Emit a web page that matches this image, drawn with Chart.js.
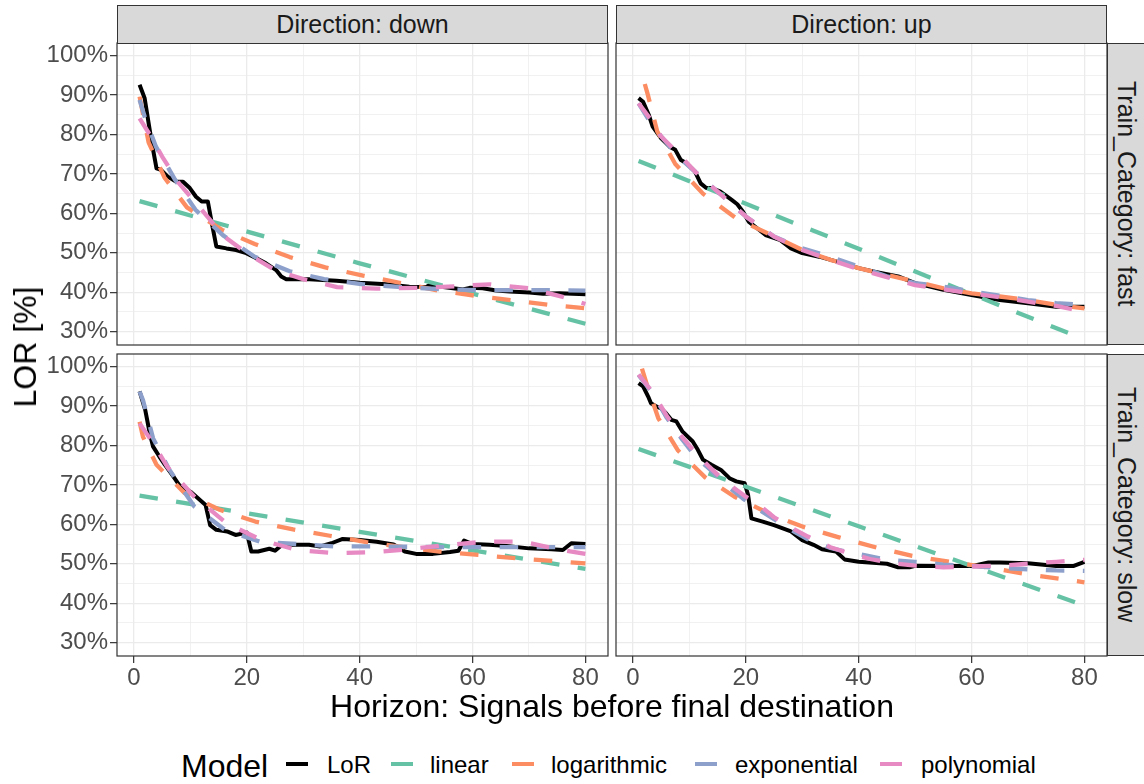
<!DOCTYPE html>
<html>
<head>
<meta charset="utf-8">
<script src="https://cdn.jsdelivr.net/npm/chart.js@4.4.1/dist/chart.umd.min.js"></script>
<style>
  body { margin: 0; background: #fff; }
  #wrap { position: relative; width: 1144px; height: 784px; overflow: hidden; background: #fff;
          font-family: "Liberation Sans", Arial, sans-serif; }
  #wrap canvas { position: absolute; }
  .strip { position: absolute; box-sizing: border-box; background: #D9D9D9; border: 1px solid #333;
           color: #1A1A1A; font-size: 25px; display: flex; align-items: center; justify-content: center;
           white-space: nowrap; }
  .strip.side { writing-mode: vertical-rl; padding-right: 4px; justify-content: center; }
  .title { position: absolute; color: #000; font-size: 32px; white-space: nowrap; line-height: 36px; }
  .lab { position: absolute; font-size: 24px; color: #000; line-height: 28px; white-space: nowrap; }
  .key { position: absolute; height: 4.5px; width: 22px; }
</style>
</head>
<body>
<div id="wrap"></div>
<script>
const FONT = '"Liberation Sans", Arial, sans-serif';

// facets, series, breaks
const colLabels = ["Direction: down", "Direction: up"];
const rowLabels = ["Train_Category: fast", "Train_Category: slow"];
const seriesNames = ["LoR", "linear", "logarithmic", "exponential", "polynomial"];
const seriesColors = ["#000000", "#66C2A5", "#FC8D62", "#8DA0CB", "#E78AC3"];
const xBreaks = [0, 20, 40, 60, 80];
const yBreaks = [30, 40, 50, 60, 70, 80, 90, 100];

// Direction: down / fast
const downFastLorX = [1,1.9,2.8,3.4,4,4.8,6,7.5,8.7,9.9,11,12,13.1,13.7,14.6,16.4,18.1,19.9,21.7,23.4,25.2,26.1,27,28.8,31.1,35.9,40,44.7,48.8,51.8,52.4,54.8,58.3,59.5,61.8,64.2,66.6,70.1,72.5,75.4,80];
const downFastLorY = [92.6,89.2,81.1,76.1,71.4,71,69.3,68,68,66.4,64.2,63,63,58.3,51.6,51.1,50.7,49.9,48.6,47.3,45.6,44,43.3,43.3,43.3,42.9,42.4,42,41.4,41.3,41.8,41.3,40.7,41.1,41,40.4,40.2,39.9,39.6,39.7,39.5];
const downFastLinX = [1, 40, 80];
const downFastLinY = [63.1, 47.3, 32.0];
const downFastLogX = [1,2.6,5.4,9.4,15.6,21.4,27.6,33.9,40.6,47.4,53.9,60.5,67.2,73.5,80];
const downFastLogY = [89.6,78,69.1,61.5,55.8,52.2,48.9,46.3,44.2,42.3,40.4,39.1,37.9,36.8,35.9];
const downFastExpX = [1,1.9,3.9,7.3,10.9,15.8,21.4,27.6,33.7,40.6,47.4,53.9,60.7,67.3,74.1,80];
const downFastExpY = [88.8,84.5,76.9,68.5,60.9,54.4,49,45.3,43.3,42,41.3,40.8,40.5,40.5,40.5,40.4];
const downFastPolX = [1,3,5,8,12,16,20,25,30,36,43,50,57,63,70,76,80];
const downFastPolY = [84.1,79.5,74.4,67.6,60.9,54.1,49.9,45.6,43.3,41.3,40.9,41.1,41.5,42,41,38.8,37];

// Direction: up / fast
const upFastLorX = [1,1.8,2.8,3.5,5,6.5,7.5,8.5,9.5,11,12,13,14,15.5,17.5,18.5,19.5,20.5,22,23.5,26,28,30,33,36,40,43,47,50,55,60,65,70,75,80];
const upFastLorY = [89.2,88.3,85,82,79,76.9,76.1,73.5,72.7,70.6,67.6,66.4,66.4,65.5,63.4,62.3,60.4,57.9,56.2,54.5,53.3,51.1,49.9,49,47.8,46.1,45.1,44,42.3,40.6,39.3,38,37.2,36.3,36.3];
const upFastLinX = [1, 40, 80];
const upFastLinY = [73.3, 51.0, 28.0];
const upFastLogX = [2.1,2.6,4.3,7.5,12.4,18.4,24.5,30,35,40,45,50,55,60,65,70,75,80];
const upFastLogY = [92.8,90.3,80.8,72.5,65,58.6,54.5,50.7,48.2,46.1,44.4,42.7,41,39.7,38.9,38,36.8,35.9];
const upFastExpX = [1,3,5,8,12,16,20,25,30,35,40,45,50,55,60,65,70,75,80];
const upFastExpY = [87.9,83.3,79.5,74.4,69.3,64.2,59.2,54.1,51.1,49,46.5,44,42.3,41.4,40.2,39.1,38,37.2,36.8];
const upFastPolX = [1,3,5,8,11,15,20,25,30,35,40,45,50,55,60,65,70,75,80];
const upFastPolY = [87.9,84.1,79.5,75.2,70.6,65.5,59.2,54.1,50.7,48.2,45.8,43.8,41.8,40.7,39.7,38.7,37.6,36.5,35.1];

// Direction: down / slow
const downSlowLorX = [1,2,2.8,3.4,4.5,5.5,7,8,10,12,12.7,13.5,14.6,16.5,18,20,20.8,22,24,25,26,28,31,33,35,37,40,43,46,48,50,53,56,57.5,58.5,60,63,66,70,74,76,77.5,80];
const downSlowLorY = [93.7,89,83.1,79.7,77.2,75.1,72.1,70,68.3,65.8,64.9,59.8,58.6,58.2,57.3,57.9,53.1,53.1,53.8,53.3,54.5,54.8,54.8,54.4,55.2,56.3,56,55.6,54.9,53.1,52.5,52.5,53,53.3,55.9,55,54.8,54.5,53.9,53.7,53.5,55.2,55];
const downSlowLinX = [1, 40, 80];
const downSlowLinY = [67.3, 58.1, 48.7];
const downSlowLogX = [1,1.6,4,9,15.2,21.5,28.2,34.7,41.2,47.7,54.2,61.3,67.6,74.2,80];
const downSlowLogY = [86,82.2,75.1,67.9,63.7,60.7,58.7,57.1,55.5,54.2,53.1,52.2,51.4,50.7,50.1];
const downSlowExpX = [1,1.6,3.4,6.3,10.7,16.1,22.3,28.8,35.6,42.4,55.3,67,80];
const downSlowExpY = [93.7,91.5,81.8,73.8,64.5,58.6,55.6,55,54.4,54.4,54.2,54.2,54.2];
const downSlowPolX = [1,3.4,6,10.7,16.4,22.6,28.8,35.4,42,48.8,55.6,62.3,68.9,75.7,80];
const downSlowPolY = [85.6,80.6,74.4,67,60.3,56,53.5,52.7,52.9,53.7,54.8,55.6,55.6,53.5,52.5];

// Direction: up / slow
const upSlowLorX = [1,1.8,2.7,3.2,4.1,5,5.9,6.8,7.7,8.8,10.6,11.5,12.4,13.9,15.6,17.1,18.3,19.8,20.4,21,23,25,28,30,32,33.5,36,37.5,40,45,47,49,50,55,60,63,65,70,75,78,80];
const upSlowLorY = [95.8,95,92.4,90.7,89.9,89.4,88.1,86.5,86.1,83.5,81,78.9,76.4,75.1,73.8,71.7,70.9,70.4,67.5,61.5,60.7,59.8,58.2,56,54.8,53.7,53.1,51.1,50.5,50,49.1,49.1,49.5,49.4,49.4,50.3,50.3,50.1,49.4,49.4,50.5];
const upSlowLinX = [1, 40, 80];
const upSlowLinY = [79.1, 59.5, 39.4];
const upSlowLogX = [1.6,2.5,4.5,8,12.8,18,24.6,30.5,36.5,43.2,49.5,56.5,63.8,69.5,76.5,80];
const upSlowLogY = [99.5,95.3,86.9,78.7,71.9,67,62.4,59.2,56.7,54.1,52,50.4,48.9,47.4,46,45.3];
const upSlowExpX = [1,3.5,6,8.8,11.2,13.6,16.2,19.5,22,25,28,31,35,38,41,45,50,55,60,65,70,75,80];
const upSlowExpY = [97.9,93.2,87,81.4,77,74,70.4,66.5,64,61.3,58.6,56.2,54,53,52.2,51,50.5,49.8,49.4,48.9,48.6,48.3,48.2];
const upSlowPolX = [1,3.5,6,8.8,11.2,13.6,16.2,20,22,25,28,31,35,38,42,46,50,55,60,65,70,75,80];
const upSlowPolY = [98,93.5,87.5,82,78,74.5,71,67,65.3,61.8,59.2,56.9,54.2,52.8,51.2,50.1,49.5,49.1,49.3,49.5,50,50.5,51];

const PANEL_W = 491, PANEL_H = 302;
const panels = [
    { left: 117, top: 43,  showX: false, showY: true,
      series: [[downFastLorX, downFastLorY], [downFastLinX, downFastLinY], [downFastLogX, downFastLogY], [downFastExpX, downFastExpY], [downFastPolX, downFastPolY]] },
    { left: 616, top: 43,  showX: false, showY: false,
      series: [[upFastLorX, upFastLorY], [upFastLinX, upFastLinY], [upFastLogX, upFastLogY], [upFastExpX, upFastExpY], [upFastPolX, upFastPolY]] },
    { left: 117, top: 354, showX: true,  showY: true,
      series: [[downSlowLorX, downSlowLorY], [downSlowLinX, downSlowLinY], [downSlowLogX, downSlowLogY], [downSlowExpX, downSlowExpY], [downSlowPolX, downSlowPolY]] },
    { left: 616, top: 354, showX: true,  showY: false,
      series: [[upSlowLorX, upSlowLorY], [upSlowLinX, upSlowLinY], [upSlowLogX, upSlowLogY], [upSlowExpX, upSlowExpY], [upSlowPolX, upSlowPolY]] }
];

const wrap = document.getElementById("wrap");

// panel border, like ggplot's panel.border
const panelBorder = {
    id: "panelBorder",
    afterDraw(chart) {
        const { ctx, chartArea: a } = chart;
        ctx.save();
        ctx.strokeStyle = "#333333";
        ctx.lineWidth = 1.2;
        ctx.strokeRect(a.left, a.top, a.right - a.left, a.bottom - a.top);
        ctx.restore();
    }
};

function isMajor(ctx, breaks) {
    return ctx.tick && breaks.includes(ctx.tick.value);
}

function buildScales(p) {
    return {
        x: {
            type: "linear", min: -3, max: 84,
            border: { display: false },
            afterFit: (s) => { s.height = p.showX ? 41 : 0; s.paddingLeft = 0; s.paddingRight = 0; },
            grid: {
                color: "#EBEBEB",
                lineWidth: (c) => isMajor(c, xBreaks) ? 1.3 : 0.7,
                drawTicks: p.showX, tickLength: 7, tickWidth: 1.2,
                tickColor: (c) => isMajor(c, xBreaks) ? "#333333" : "rgba(0,0,0,0)"
            },
            ticks: {
                display: p.showX, stepSize: 10, includeBounds: false, autoSkip: false,
                maxRotation: 0, padding: 1, color: "#4D4D4D",
                font: { size: 24, family: FONT },
                callback: (v) => xBreaks.includes(v) ? String(v) : ""
            }
        },
        y: {
            type: "linear", min: 26.6, max: 103.2,
            border: { display: false },
            afterFit: (s) => { s.width = p.showY ? 80 : 0; s.paddingTop = 0; s.paddingBottom = 0; },
            grid: {
                color: "#EBEBEB",
                lineWidth: (c) => isMajor(c, yBreaks) ? 1.3 : 0.7,
                drawTicks: p.showY, tickLength: 7, tickWidth: 1.2,
                tickColor: (c) => isMajor(c, yBreaks) ? "#333333" : "rgba(0,0,0,0)"
            },
            ticks: {
                display: p.showY, stepSize: 5, includeBounds: false, autoSkip: false,
                padding: 2, color: "#4D4D4D",
                font: { size: 24, family: FONT },
                callback: (v) => yBreaks.includes(v) ? v + "%" : ""
            }
        }
    };
}

function makePanel(p) {
    const cl = p.showY ? p.left - 80 : p.left - 1;
    const ct = p.top - 1;
    const canvas = document.createElement("canvas");
    canvas.width = p.left + PANEL_W + 1 - cl;
    canvas.height = PANEL_H + 2 + (p.showX ? 40 : 0);
    canvas.style.left = cl + "px";
    canvas.style.top = ct + "px";
    wrap.appendChild(canvas);

    const datasets = p.series.map(([xs, ys], i) => ({
        label: seriesNames[i],
        data: xs.map((x, k) => ({ x: x, y: ys[k] })),
        borderColor: seriesColors[i],
        borderWidth: i === 0 ? 4 : 4.3,
        borderDash: i === 0 ? [] : [18.5, 18.5],
        borderCapStyle: "butt",
        borderJoinStyle: "round",
        pointRadius: 0,
        tension: 0,
        fill: false,
        order: 5 - i
    }));

    new Chart(canvas.getContext("2d"), {
        type: "line",
        data: { datasets },
        options: {
            responsive: false,
            animation: false,
            events: [],
            layout: {
                autoPadding: false,
                padding: { top: 1, right: 1, bottom: p.showX ? 0 : 1, left: p.showY ? 0 : 1 }
            },
            plugins: { legend: { display: false }, tooltip: { enabled: false } },
            scales: buildScales(p)
        },
        plugins: [panelBorder]
    });
}

panels.forEach(makePanel);

// facet strips
function addDiv(cls, text, css) {
    const d = document.createElement("div");
    d.className = cls;
    d.textContent = text;
    Object.assign(d.style, css);
    wrap.appendChild(d);
    return d;
}

colLabels.forEach((t, i) => {
    addDiv("strip", t, { left: panels[i].left + "px", top: "5px", width: PANEL_W + "px", height: "39px" });
});
rowLabels.forEach((t, i) => {
    addDiv("strip side", t, { left: "1107px", top: panels[i * 2].top + "px", width: "42px", height: PANEL_H + "px" });
});

// axis titles
addDiv("title", "Horizon: Signals before final destination",
    { left: "117px", width: (1107 - 117) + "px", top: "688px", textAlign: "center" });
addDiv("title", "LOR [%]",
    { left: "25px", top: "347px", transform: "translate(-50%, -50%) rotate(-90deg)" });

// legend
addDiv("title", "Model", { left: "181px", top: "748px" });
const keyLeft = [286, 391, 512, 695, 880];
const labLeft = [327, 430, 551, 735, 921];
seriesNames.forEach((name, i) => {
    const k = addDiv("key", "", { left: keyLeft[i] + "px", top: "761.5px" });
    k.style.background = seriesColors[i];
    addDiv("lab", name, { left: labLeft[i] + "px", top: "751px" });
});
</script>
</body>
</html>
